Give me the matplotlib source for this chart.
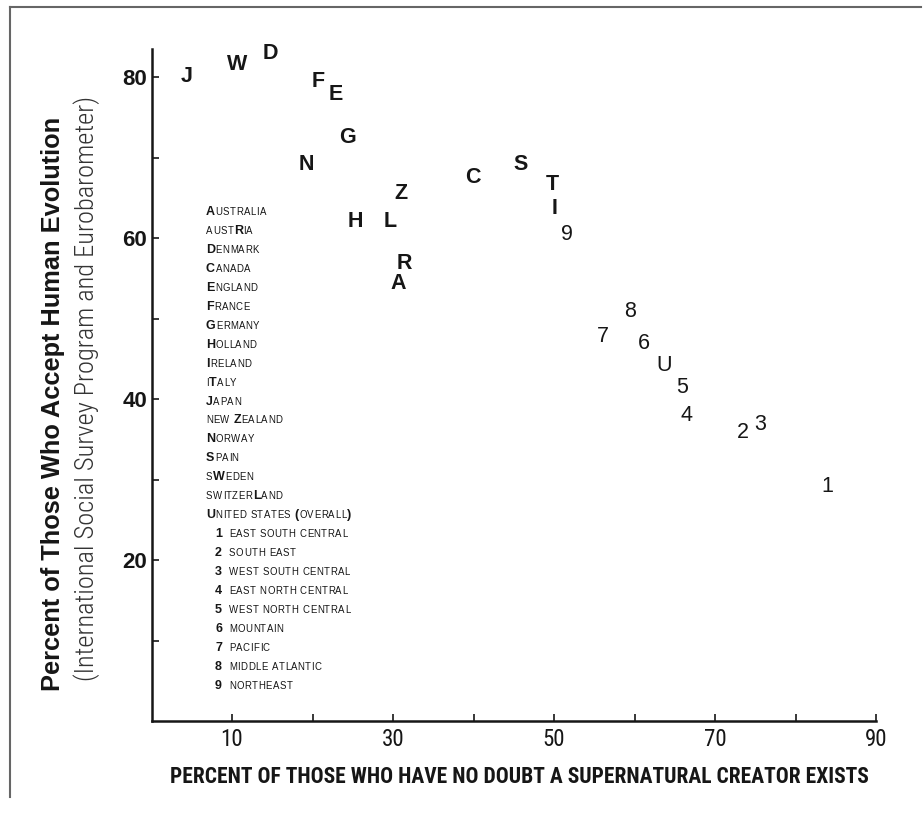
import matplotlib
matplotlib.use("Agg")
import matplotlib.pyplot as plt
from matplotlib.lines import Line2D

# letters / region numbers drawn on the chart
codes = ["J", "W", "D", "F", "E", "G", "N", "Z", "H", "L", "R", "A",
         "C", "S", "T", "I", "9", "8", "7", "6", "U", "5", "4", "2", "3", "1"]
# percent with no doubt a supernatural creator exists
creator = [4.4, 10.6, 14.8, 20.7, 22.9, 24.3, 19.2, 31.0, 25.3, 29.6, 31.4, 30.7,
           39.9, 45.9, 49.8, 50.1, 51.6, 59.4, 56.1, 61.2, 63.7, 65.9, 66.4, 73.5, 75.6, 83.9]
# percent who accept human evolution
evolution = [80.1, 81.6, 82.9, 79.4, 77.9, 72.5, 69.1, 65.6, 62.1, 62.1, 56.8, 54.3,
             67.5, 69.2, 66.7, 63.7, 60.4, 50.9, 47.8, 46.9, 44.2, 41.4, 38.0, 35.8, 36.8, 29.2]
number_codes = ["1", "2", "3", "4", "5", "6", "7", "8", "9", "U"]

# legend: upper case = large capital, lower case = small capital
legend_rows = ["Australia", "austRia", "Denmark", "Canada", "England", "France",
               "Germany", "Holland", "Ireland", "iTaly", "Japan", "new Zealand",
               "Norway", "Spain", "sWeden", "switzerLand", "United states (overall)",
               "1 east south central", "2 south east", "3 west south central",
               "4 east north central", "5 west north central", "6 mountain",
               "7 pacific", "8 middle atlantic", "9 northeast"]

x_ticks = [10, 20, 30, 40, 50, 60, 70, 80, 90]
x_ticklabels = ["10", "", "30", "", "50", "", "70", "", "90"]
y_ticks = [10, 20, 30, 40, 50, 60, 70, 80]
y_ticklabels = ["", "20", "", "40", "", "60", "", "80"]

W, H = 923, 813
INK = "#161616"
NARROW = ["Roboto Condensed", "Archivo Narrow", "Liberation Sans"]

fig = plt.figure(figsize=(W / 100, H / 100), dpi=100)
ax = fig.add_axes([151.5 / W, 1 - 721 / H, (876 - 151.5) / W, (721 - 49) / H])
ax.set_xlim(0, 90)
ax.set_ylim(0, 83.5)

for s in ["top", "right"]:
    ax.spines[s].set_visible(False)
for s in ["left", "bottom"]:
    ax.spines[s].set_linewidth(1.8)
    ax.spines[s].set_color(INK)

ax.set_xticks(x_ticks)
ax.set_xticklabels(x_ticklabels, fontsize=16.5, family=NARROW, color=INK)
ax.set_yticks(y_ticks)
ax.set_yticklabels(y_ticklabels, fontsize=16, family="Liberation Sans",
                   fontweight="bold", color=INK)
ax.tick_params(axis="both", direction="in", length=5, width=1.2, color=INK)
ax.tick_params(axis="x", pad=5)
ax.tick_params(axis="y", pad=3)

for c, xv, yv in zip(codes, creator, evolution):
    wt = "normal" if c in number_codes else "bold"
    ax.text(xv, yv, c, ha="center", va="center", fontsize=15.5,
            family="Liberation Sans", fontweight=wt, color=INK)

# axis titles
fig.text(519 / W, 1 - 777 / H,
         "PERCENT OF THOSE WHO HAVE NO DOUBT A SUPERNATURAL CREATOR EXISTS",
         ha="center", va="center", fontsize=15.5, family=NARROW,
         fontweight="bold", color=INK)
fig.text(53 / W, 1 - 404 / H, "Percent of Those Who Accept Human Evolution",
         rotation=90, ha="center", va="center", fontsize=18.3,
         family="Liberation Sans", fontweight="bold", color=INK)
fig.text(87 / W, 1 - 388 / H,
         "(International Social Survey Program and Eurobarometer)",
         rotation=90, ha="center", va="center", fontsize=19,
         family=NARROW, fontweight="light", color="#333333")

# legend in small caps, drawn letter by letter
renderer = fig.canvas.get_renderer()
BIG, SMALL, TRACK = 9, 6.9, 0.5


def draw_caps(x_px, base_px, s):
    x = x_px
    for ch in s:
        if ch == " ":
            x += 3.5
            continue
        big = not ch.islower()
        t = fig.text(x / W, 1 - base_px / H, ch.upper(),
                     fontsize=BIG if big else SMALL,
                     fontweight="bold" if big else "normal",
                     family="Liberation Sans", color=INK,
                     ha="left", va="baseline")
        x += t.get_window_extent(renderer).width + TRACK


for i, row in enumerate(legend_rows):
    base = 210.7 + i * 18.95 + 4.3
    if row[0].isdigit():
        draw_caps(215, base, row[0])
        draw_caps(229, base, row[2:])
    else:
        draw_caps(206, base, row)

# page frame (left and top edges)
fig.add_artist(Line2D([10 / W, 10 / W], [1 - 7 / H, 1 - 797 / H],
                      color="#666666", lw=1.5))
fig.add_artist(Line2D([10 / W, 921 / W], [1 - 7 / H, 1 - 7 / H],
                      color="#666666", lw=1.5))

fig.savefig("out.png", dpi=100)
